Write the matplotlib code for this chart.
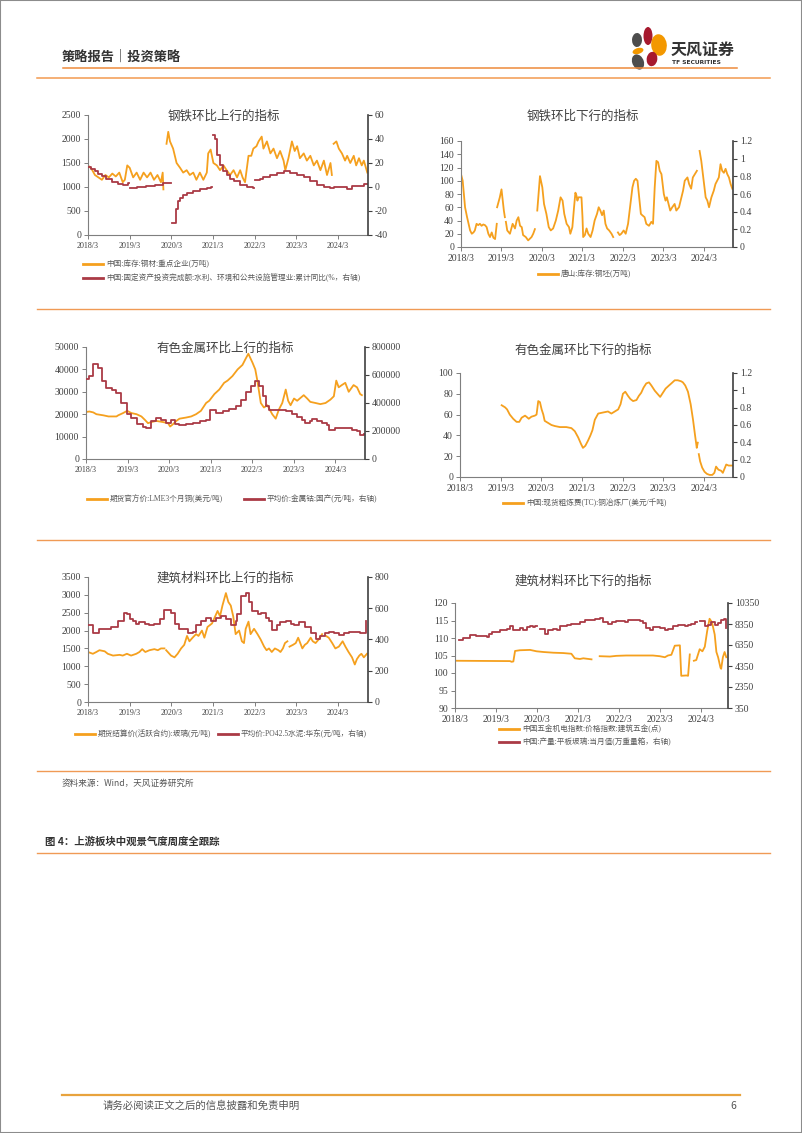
import numpy as np
import matplotlib
matplotlib.use('Agg')
import matplotlib.pyplot as plt
from matplotlib.lines import Line2D
from matplotlib.patches import Ellipse, Rectangle

plt.rcParams['axes.unicode_minus'] = False
nan = np.nan

# ---------------- data (x = months since 2018/3) ----------------
year_ticks = [0, 12, 24, 36, 48, 60, 72]
year_labels = ['2018/3', '2019/3', '2020/3', '2021/3', '2022/3', '2023/3', '2024/3']

steel_inventory = [(0,1450),(1,1380),(2,1250),(3,1200),(4,1150),(5,1250),(6,1200),(7,1280),(8,1220),(9,1300),
    (10,1100),(10.6,1150),(11.3,1450),(12,1400),(13,1200),(14,1300),(15,1150),(16,1300),(17,1200),(18,1300),
    (19,1150),(20,1250),(21,1100),(21.5,1300),(21.7,950),(22.2,nan),(22.6,1900),(23.1,2150),(23.6,1950),(24.5,1800),
    (25.5,1500),(26.5,1400),(27.4,1300),(28.4,1350),(29.3,1250),(30.3,1300),(31.2,1150),(32.2,1300),(33.2,1150),(34.2,1300),
    (34.6,1700),(35.3,1780),(36.1,1500),(37.1,1450),(38,1350),(39,1450),(39.9,1350),(40.9,1250),(41.9,1350),(42.9,1200),
    (43.8,1350),(44.5,1200),(45.2,1100),(46.2,1650),(47,1650),(47.6,1800),(48.5,1850),(49.1,1950),(50,2050),(50.5,1800),
    (51.5,1950),(52.5,1700),(53.4,1800),(54.4,1600),(55.3,1750),(56.3,1550),(56.8,1350),(57.7,1600),(58.7,1950),(59.5,1750),
    (60.2,1850),(61,1600),(62.1,1700),(63,1550),(64,1650),(65,1450),(65.9,1550),(66.9,1350),(67.9,1550),(68.8,1250),
    (69.8,1500),(70.2,1250),(70.4,nan),(70.7,1900),(71.5,1950),(72.2,1800),(73.1,1700),(74,1550),(74.6,1650),(75.5,1500),
    (76.5,1650),(77.2,1450),(78,1600),(78.8,1450),(79.4,1550),(80.4,1300)]

water_fai_yoy = [(0,17),(1,15),(2,13),(3,11),(4,9),(5.3,7),(7,4),(8.5,2.5),(10.1,2),(11.5,3),(11.8,nan),(12,-1),(14,0),
    (16.8,1),(19.2,2),(21.7,3),(23.6,3),(23.9,nan),(24.1,-30),(25,-30),(25.3,-18),(26,-12),(26.5,-9),(27.4,-7),(28.4,-5),
    (30.3,-3),(32.2,-1.5),(34.2,-0.5),(35.3,0),(35.7,nan),(36.1,43),(36.6,40),(37.1,27),(38,18),(39,13),(39.9,10),(40.9,7),
    (41.9,5),(43.8,2),(45.7,0),(47.4,-1),(47.8,nan),(48.1,6),(49.6,7),(50.5,8),(52.5,10),(54.4,12),(56.3,13),(58.2,12),
    (60.2,10),(62.1,8),(64,5),(65.9,2),(67.9,0),(69.8,-1),(70.7,0),(72.7,0),(74.6,-1.5),(76,0.5),(78,1),(79.4,2.5),(80.8,4)]

tangshan_billet = [(0,110),(0.5,100),(1.2,60),(1.8,45),(2.7,25),(3.2,20),(3.7,22),(4.1,25),(4.6,35),(5.1,33),(5.6,35),
    (6.1,32),(6.6,34),(7.1,33),(7.6,30),(8.1,20),(8.6,15),(9.1,22),(9.6,14),(10.1,12),(10.6,35),(10.65,nan),(10.7,60),
    (11.5,75),(12,87),(12.7,55),(13,45),(13.1,nan),(13.3,38),(13.7,25),(14.5,20),(15.3,35),(16,28),(16.5,40),(17,45),
    (17.5,32),(18,30),(18.4,18),(19.2,15),(19.9,10),(20.9,15),(21.4,20),(21.9,27),(22.2,nan),(22.6,55),(23.4,107),(24.1,90),
    (24.6,65),(25.3,50),(26,30),(26.6,25),(27.3,28),(28.1,40),(28.8,55),(29.5,75),(30.1,70),(30.6,50),(31.3,35),(32,30),
    (32.4,20),(33,30),(33.5,60),(33.9,82),(34.2,78),(34.5,70),(34.8,75),(35.7,75),(36,45),(36.2,15),(36.7,18),(37.2,28),
    (37.7,20),(38.4,15),(39,25),(39.6,40),(40.3,50),(40.8,60),(41.3,55),(41.8,48),(42.3,55),(42.8,35),(43.3,28),(43.9,25),
    (44.6,20),(45.1,15),(45.6,nan),(46.5,22),(47,18),(47.5,20),(48.2,25),(48.8,20),(49.5,35),(50.2,65),(50.8,90),(51.3,100),
    (51.8,103),(52.3,100),(52.8,75),(53.3,50),(53.7,48),(54.4,45),(54.9,35),(55.7,32),(56.4,38),(56.9,35),(57.4,90),
    (57.9,130),(58.4,128),(58.9,115),(59.4,110),(60.1,80),(60.6,70),(61,75),(61.5,65),(62,55),(62.6,60),(63.3,65),(63.8,55),
    (64.6,60),(65.3,75),(65.8,85),(66.3,100),(67.1,105),(67.6,95),(68.2,88),(68.7,105),(69.3,110),(69.9,115),(70.3,nan),
    (70.7,145),(71.2,130),(71.9,100),(72.5,75),(73,70),(73.5,60),(74.2,75),(74.9,85),(75.4,95),(75.9,100),(76.4,105),
    (76.9,125),(77.4,115),(77.9,112),(78.4,118),(78.9,110),(79.4,105),(79.9,95),(80.4,88)]

lme_copper = [(0,21000),(1,21200),(2.1,20800),(3,20000),(5,19500),(6.5,19000),(8.8,19000),(9.3,19500),(10.7,20500),
    (11.9,21500),(13.1,20500),(14.6,20000),(16,19000),(17,17500),(17.9,16000),(18.9,16500),(20.3,17000),(22.2,16500),
    (23.7,16000),(24.3,14500),(25.1,15500),(26.1,17000),(27,18000),(28.9,18500),(30.4,19000),(31.8,20000),(33.2,21500),
    (34.7,25000),(35.6,26000),(37.1,29000),(38.5,31000),(39.9,34000),(40.9,35000),(42.3,37000),(43.8,40000),(45.2,42000),
    (46.2,45000),(46.9,47000),(48.1,43000),(48.9,40000),(49.5,35000),(50.5,25000),(51.4,23000),(52.4,24000),(53.8,20000),
    (54.8,18000),(55.7,22000),(56.7,25000),(57.7,31000),(58.4,26000),(59.1,24000),(60.1,27000),(61,26000),(62.9,28500),
    (63.9,27000),(64.8,25500),(66.3,25000),(67.7,24500),(69.2,25000),(70.6,26500),(71.6,28000),(72.3,35000),(73,32000),
    (73.9,33000),(74.9,34000),(75.9,30000),(77.3,33000),(78.3,32000),(79.2,29000),(79.7,28500)]

cobalt_price = [(0,570000),(1,590000),(2.1,680000),(3.1,680000),(3.5,650000),(4.5,560000),(5.9,510000),(7.4,490000),
    (8.8,470000),(9.3,470000),(10.2,400000),(11.9,320000),(13.1,290000),(14.6,250000),(16.5,230000),(17.4,220000),
    (18.9,270000),(20.3,290000),(21.7,280000),(23.2,260000),(24.6,280000),(25.6,250000),(27,245000),(28.9,250000),
    (30.8,260000),(32.8,270000),(34.7,275000),(35.9,350000),(37.5,330000),(39.5,340000),(41.4,360000),(43.3,380000),
    (44.7,420000),(46.2,480000),(47.6,520000),(48.9,560000),(50,520000),(51,450000),(51.9,380000),(52.9,350000),
    (55.7,350000),(57.7,340000),(59.6,320000),(61,300000),(62.5,280000),(63.4,260000),(64.8,270000),(65.3,285000),
    (66.8,270000),(68.2,260000),(69.6,240000),(70.1,210000),(72,220000),(74.9,220000),(76.8,210000),(78.3,200000),
    (79.2,170000),(80.2,180000)]

copper_tc = [(12.3,69),(13.3,67),(13.9,65),(14.7,60),(15.7,56),(16.7,53),(17.5,53),(18.2,57),(19.2,59),(19.6,58),
    (20.3,56),(21.1,58),(22.1,59),(22.6,60),(23.1,73),(23.6,72),(24.1,65),(24.6,60),(25,54),(26,52),(27,50),(28,49),
    (29.5,48),(31.4,48),(32.9,47),(33.9,44),(34.9,38),(35.7,32),(36.3,28),(37,30),(37.8,35),(38.5,40),(39.1,45),(39.8,55),
    (40.8,61),(42.2,62),(43.7,63),(44.7,61),(45.7,63),(46.7,65),(47.4,70),(48.1,80),(48.8,82),(49.6,78),(50.3,75),(51.1,73),
    (52.1,74),(52.8,78),(53.5,81),(54.2,86),(55,90),(55.8,91),(56.5,88),(57.5,83),(58.3,80),(59.1,77),(59.9,81),(60.7,85),
    (61.7,88),(62.4,90),(63.4,93),(64.3,93),(65.3,92),(65.8,91),(66.5,88),(67.3,82),(68.1,70),(68.8,55),(69.4,40),(69.9,28),
    (70.2,33),(70.35,nan),(70.5,22),(70.9,15),(71.5,9),(72.2,5),(72.9,3),(73.7,2),(74.5,2),(75.1,4),(75.6,10),(76.3,7),
    (77.1,6),(77.6,4),(78.1,8),(78.6,12),(79.3,11),(80.4,11)]

glass_futures = [(0,1400),(1.4,1350),(2.4,1400),(3.3,1450),(4.8,1420),(5.7,1350),(7.2,1300),(9.1,1320),(10,1300),
    (11.2,1350),(12.4,1300),(13.9,1350),(14.8,1400),(15.6,1480),(16.5,1400),(17.7,1450),(19.1,1480),(20.1,1450),(21,1500),
    (22,1500),(22.2,nan),(22.5,1450),(23.9,1300),(24.9,1250),(25.8,1350),(26.8,1500),(27.7,1600),(28.5,1850),(29.2,1700),
    (30.1,1800),(31.1,1900),(31.8,1850),(32.8,2000),(33.5,1800),(34.4,2100),(35.7,2200),(37.3,2550),(38,2400),(38.7,2700),
    (39.7,3050),(40.4,2800),(41.1,2700),(41.8,2400),(42.5,1900),(43.5,2000),(44.3,1700),(44.9,1650),(45.4,2050),(46.2,2250),
    (46.8,1900),(47.8,2050),(48.8,1900),(49.7,1750),(50.7,1550),(51.4,1450),(52.1,1500),(52.9,1400),(53.8,1500),(54.8,1450),
    (55.4,1400),(56.1,1500),(56.7,1650),(57.4,1700),(57.7,nan),(58,1550),(59,1600),(59.8,1650),(60.5,1800),(61.7,1500),
    (62.4,1600),(63.1,1650),(64.1,1800),(64.7,1700),(65.5,1650),(66.4,1750),(67.4,1900),(67.8,nan),(68.5,1850),(69.3,1800),
    (70.3,1650),(71.2,1500),(72.2,1550),(73.3,1700),(74.1,1550),(75,1400),(76,1250),(76.8,1050),(77.4,1200),(78.1,1300),
    (78.7,1350),(79.4,1250),(80.3,1350)]

cement_price = [(0,490),(1.4,440),(2.4,440),(3.3,470),(5.3,470),(6.7,480),(8.6,520),(10.5,570),(11.2,560),(12,530),
    (12.9,520),(13.9,500),(14.8,510),(16.3,500),(17.7,490),(19.1,500),(20.6,530),(22,590),(22.9,590),(23.9,570),(24.9,500),
    (26.3,470),(27.2,470),(28.7,440),(30.1,450),(31.1,490),(32.5,520),(33.9,540),(35.4,520),(36.8,540),(38.2,550),(39.7,530),
    (41.1,490),(42.5,520),(43,560),(44,680),(45.4,700),(46.4,640),(47.3,580),(48.8,560),(49.7,570),(51.1,540),(52.1,520),
    (53.1,460),(54.5,490),(55.4,510),(56.9,520),(58.3,500),(59.3,490),(60.7,510),(62.6,480),(64.1,440),(65.5,400),
    (66.9,420),(68.2,440),(69.3,450),(70.7,440),(72.2,430),(73.6,440),(75,450),(77,445),(78.4,440),(79.4,440),(80,520)]

hardware_index = [(0,103.5),(16.1,103.4),(16.6,103.2),(17.1,103.3),(17.6,106.3),(19,106.5),(22,106.6),(23.9,106.2),
    (25.9,106),(28.8,105.8),(31.7,105.7),(34.1,105.5),(35.1,104.2),(36.6,104),(37.6,104.2),(40,103.9),(40.5,nan),(41,105.6),
    (41.5,nan),(42.4,104.8),(45.4,104.7),(47.3,104.9),(50.2,105),(54.1,105),(58,105),(60,104.8),(61.5,104.5),(62.4,105),
    (63.4,105.2),(64.4,107.8),(65.9,107.9),(66.3,99.2),(67.8,99.3),(68.3,99.2),(68.8,105.3),(69.3,nan),(70,103.5),
    (70.7,103.7),(71.7,106.8),(72.5,106.2),(73.2,107.5),(73.9,112),(74.6,115.5),(75.3,114.5),(76.1,111),(76.6,106),
    (77.1,104.5),(77.8,101.5),(78,101.2),(78.5,104.5),(79,106),(79.5,104.5)]

flat_glass_output = [(1.3,6860),(2.4,6990),(4.4,7335),(6.3,7240),(8.3,7175),(9.3,7080),(10,7430),(10.7,7560),(12.2,7560),
    (13.2,7810),(15.1,7905),(16.1,8190),(17.1,7810),(19,7970),(20,7810),(21,8030),(22,8130),(22.9,8030),(23.4,8130),(24,nan),
    (24.9,7875),(26.3,7430),(27.3,7810),(28.8,7905),(29.8,7810),(30.7,8130),(32.7,8225),(34.1,8380),(36.6,8510),(38,8700),
    (39.5,8765),(41,8830),(42.4,8890),(43.4,8510),(44.9,8380),(45.9,8545),(47.3,8670),(48.3,8670),(49.8,8575),(50.7,8765),
    (52.2,8700),(54.1,8670),(55.1,8445),(56.1,7970),(57.1,7810),(58,8030),(60,7970),(61.5,7810),(62.4,7905),(63.9,8130),
    (65.4,8225),(66.3,8225),(67.3,8130),(68.3,8225),(69.3,8350),(70.2,8510),(70.8,nan),(71.7,8605),(73.2,8130),(74.1,8225),
    (75.1,8545),(76.1,8290),(77.1,8445),(78,8765),(78.7,8830),(79.3,7970)]

# ---------------- figure ----------------
W, H = 802, 1133
fig = plt.figure(figsize=(W / 100, H / 100), dpi=100)

ORANGE = '#F5A01E'
RED = '#AA3A45'
TXT = '#404040'
LINE_OR = '#F09A55'
SERIF = ['Liberation Serif', 'Noto Sans CJK SC']
CJK = ['Noto Sans CJK SC', 'DejaVu Sans']


def fx(x):
    return x / W


def fy(y):
    return 1 - y / H


def make_ax(l, t, r, b):
    return fig.add_axes([fx(l), fy(b), (r - l) / W, (b - t) / H])


def xy(series):
    a = np.array(series, dtype=float)
    return a[:, 0], a[:, 1]


def style(ax, ax2, xfs, yfs):
    ax.set_xlim(0, 80.6)
    ax.set_xticks(year_ticks)
    ax.set_xticklabels(year_labels)
    for a in (ax, ax2):
        a.spines['top'].set_visible(False)
        a.patch.set_alpha(0)
    ax.spines['right'].set_visible(False)
    ax.spines['left'].set_color('#7F7F7F')
    ax.spines['left'].set_linewidth(0.8)
    ax.spines['bottom'].set_color('#7F7F7F')
    ax.spines['bottom'].set_linewidth(0.8)
    ax2.spines['left'].set_visible(False)
    ax2.spines['bottom'].set_visible(False)
    ax2.spines['right'].set_color('#404040')
    ax2.spines['right'].set_linewidth(1.2)
    ax.tick_params(axis='x', length=3, width=0.7, colors='#7F7F7F', pad=2, labelsize=xfs, labelcolor=TXT)
    ax.tick_params(axis='y', length=3, width=0.7, colors='#7F7F7F', pad=2, labelsize=yfs, labelcolor=TXT)
    ax2.tick_params(axis='y', length=3, width=0.8, colors='#404040', pad=2, labelsize=yfs, labelcolor=TXT)
    for lab in ax.get_xticklabels() + ax.get_yticklabels() + ax2.get_yticklabels():
        lab.set_family(SERIF)


def title(x, y, s):
    fig.text(fx(x), fy(y), s, ha='center', va='center', fontsize=9, color='#3F3F3F', family=CJK)


def legend(x0, y, s, color):
    fig.add_artist(Line2D([fx(x0), fx(x0 + 20)], [fy(y), fy(y)], color=color, lw=2))
    fig.text(fx(x0 + 23), fy(y), s, ha='left', va='center', fontsize=5.5, color='#595959', family=SERIF)


# ---- Panel 1 ----
ax = make_ax(88, 115, 368, 235)
ax2 = ax.twinx()
x, v = xy(steel_inventory)
ax.plot(x, v, color=ORANGE, lw=1.3)
x, v = xy(water_fai_yoy)
ax2.plot(x, v, color=RED, lw=1.3, drawstyle='steps-post')
ax.set_ylim(0, 2500)
ax.set_yticks([0, 500, 1000, 1500, 2000, 2500])
ax2.set_ylim(-40, 60)
ax2.set_yticks([-40, -20, 0, 20, 40, 60])
style(ax, ax2, 5.8, 7)
title(224, 116, '钢铁环比上行的指标')
legend(83, 264, '中国:库存:钢材:重点企业(万吨)', ORANGE)
legend(83, 278, '中国:固定资产投资完成额:水利、环境和公共设施管理业:累计同比(%，右轴)', RED)

# ---- Panel 2 ----
ax = make_ax(461, 141, 733, 247)
ax2 = ax.twinx()
x, v = xy(tangshan_billet)
ax.plot(x, v, color=ORANGE, lw=1.3)
ax.set_ylim(0, 160)
ax.set_yticks(range(0, 161, 20))
ax2.set_ylim(0, 1.2)
ax2.set_yticks([0, 0.2, 0.4, 0.6, 0.8, 1.0, 1.2])
ax2.set_yticklabels(['0', '0.2', '0.4', '0.6', '0.8', '1', '1.2'])
style(ax, ax2, 7, 7)
title(583, 116, '钢铁环比下行的指标')
legend(538, 274, '唐山:库存:钢坯(万吨)', ORANGE)

# ---- Panel 3 ----
ax = make_ax(86, 347, 365, 459)
ax2 = ax.twinx()
x, v = xy(lme_copper)
ax.plot(x, v, color=ORANGE, lw=1.3)
x, v = xy(cobalt_price)
ax2.plot(x, v, color=RED, lw=1.3, drawstyle='steps-post')
ax.set_ylim(0, 50000)
ax.set_yticks(range(0, 50001, 10000))
ax2.set_ylim(0, 800000)
ax2.set_yticks(range(0, 800001, 200000))
style(ax, ax2, 5.8, 7)
title(225, 348, '有色金属环比上行的指标')
legend(87, 499, '期货官方价:LME3个月铜(美元/吨)', ORANGE)
legend(244, 499, '平均价:金属钴:国产(元/吨，右轴)', RED)

# ---- Panel 4 ----
ax = make_ax(460, 373, 733, 477)
ax2 = ax.twinx()
x, v = xy(copper_tc)
ax.plot(x, v, color=ORANGE, lw=1.3)
ax.set_ylim(0, 100)
ax.set_yticks(range(0, 101, 20))
ax2.set_ylim(0, 1.2)
ax2.set_yticks([0, 0.2, 0.4, 0.6, 0.8, 1.0, 1.2])
ax2.set_yticklabels(['0', '0.2', '0.4', '0.6', '0.8', '1', '1.2'])
style(ax, ax2, 7, 7)
title(583, 350, '有色金属环比下行的指标')
legend(503, 503, '中国:现货粗炼费(TC):铜冶炼厂(美元/千吨)', ORANGE)

# ---- Panel 5 ----
ax = make_ax(88, 577, 368, 702)
ax2 = ax.twinx()
x, v = xy(glass_futures)
ax.plot(x, v, color=ORANGE, lw=1.3)
x, v = xy(cement_price)
ax2.plot(x, v, color=RED, lw=1.3, drawstyle='steps-post')
ax.set_ylim(0, 3500)
ax.set_yticks(range(0, 3501, 500))
ax2.set_ylim(0, 800)
ax2.set_yticks(range(0, 801, 200))
style(ax, ax2, 5.8, 7)
title(225, 578, '建筑材料环比上行的指标')
legend(75, 734, '期货结算价(活跃合约):玻璃(元/吨)', ORANGE)
legend(218, 734, '平均价:PO42.5水泥:华东(元/吨，右轴)', RED)

# ---- Panel 6 ----
ax = make_ax(455, 603, 728, 708)
ax2 = ax.twinx()
x, v = xy(hardware_index)
ax.plot(x, v, color=ORANGE, lw=1.3)
x, v = xy(flat_glass_output)
ax2.plot(x, v, color=RED, lw=1.3, drawstyle='steps-post')
ax.set_ylim(90, 120)
ax.set_yticks(range(90, 121, 5))
ax2.set_ylim(350, 10350)
ax2.set_yticks(range(350, 10351, 2000))
style(ax, ax2, 7, 7)
ax.set_xlim(0, 80)
title(583, 581, '建筑材料环比下行的指标')
legend(499, 729, '中国五金机电指数:价格指数:建筑五金(点)', ORANGE)
legend(499, 742, '中国:产量:平板玻璃:当月值(万重量箱，右轴)', RED)

# ---------------- page decoration ----------------
def hline(y, x0, x1, color, lw):
    fig.add_artist(Line2D([fx(x0), fx(x1)], [fy(y), fy(y)], color=color, lw=lw))

fig.text(fx(62), fy(57), '策略报告｜投资策略', ha='left', va='center', fontsize=9.5,
         color='#333333', family=CJK, fontweight='bold')
hline(68, 63, 737, '#EE8A3A', 1.1)
hline(77.5, 37, 770, '#F29A50', 1.1)
hline(309, 37, 770, LINE_OR, 1.0)
hline(540, 37, 770, LINE_OR, 1.0)
hline(771, 37, 770, LINE_OR, 1.0)
hline(853, 37, 770, LINE_OR, 1.0)
hline(1095, 62, 740, '#E8A33D', 1.6)

# logo
petals = [((637, 40), 10, 14, 30, '#4D4D4D'), ((648, 36), 9, 18, 0, '#A6192E'),
          ((659, 45), 16, 21, -35, '#F39800'), ((638, 51), 11, 6, 10, '#F39800'),
          ((638, 62), 13, 14, -30, '#4D4D4D'), ((652, 59), 11, 14, 30, '#A6192E')]
for (cx, cy), w, h, ang, col in petals:
    fig.add_artist(Ellipse((fx(cx), fy(cy)), w / W, h / H, angle=ang, color=col, lw=0))
fig.text(fx(671), fy(50), '天风证券', ha='left', va='center', fontsize=11.5, color='#333333',
         family=CJK, fontweight='bold')
fig.text(fx(672), fy(63), 'TF SECURITIES', ha='left', va='center', fontsize=4.3, color='#333333',
         family='DejaVu Sans', fontweight='bold')

fig.text(fx(62), fy(783), '资料来源：Wind，天风证券研究所', ha='left', va='center', fontsize=6.2,
         color='#555555', family=CJK)
fig.text(fx(45), fy(842), '图 4：上游板块中观景气度周度全跟踪', ha='left', va='center', fontsize=7.5,
         color='#333333', family=CJK, fontweight='bold')
fig.text(fx(103), fy(1106), '请务必阅读正文之后的信息披露和免责申明', ha='left', va='center', fontsize=7.5,
         color='#555555', family=CJK)
fig.text(fx(736), fy(1106), '6', ha='right', va='center', fontsize=7.5, color='#555555', family=CJK)

# page frame
fig.add_artist(Rectangle((0, 0), 1, 1, fill=False, edgecolor='#8C8C8C', lw=1.5,
                         transform=fig.transFigure))

fig.savefig('out.png', dpi=100)
